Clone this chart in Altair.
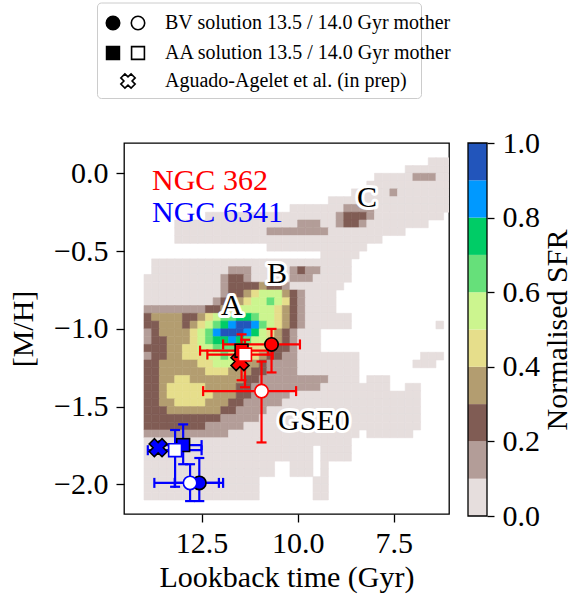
import altair as alt
import pandas as pd

# ---------------- colours of the 10 SFR levels (terrain_r, 0.0-1.0 in 0.1 steps)
LEVEL_COLORS = ["#e6dedd", "#b39d98", "#805c54", "#b39d70", "#e6de8b",
                "#ccf58f", "#66e07a", "#00cc66", "#0099ff", "#2255bb"]
CBAR_LO = [0.0, 0.1, 0.2, 0.3, 0.4, 0.5, 0.6, 0.7, 0.8, 0.9]

# ---------------- SFR map grid: columns of 0.2 Gyr from 14.0 Gyr, rows of 0.05 dex from +0.15
GRID_T_START, GRID_T_STEP = 14.0, 0.2
GRID_MH_START, GRID_MH_STEP = 0.15, 0.05
GRID_NCOL = 40
# each row: runs (first col, last col, level); later runs overwrite earlier ones
SFR_RUNS = [
    [],
    [(37, 39, 0)],
    [(34, 39, 0)],
    [(30, 39, 0), (35, 37, 1)],
    [(29, 39, 0)],
    [(27, 39, 0), (32, 32, 1)],
    [(24, 39, 0)],
    [(19, 39, 0), (26, 29, 1)],
    [(8, 38, 0), (25, 25, 1), (26, 28, 2), (29, 29, 1)],
    [(4, 36, 0), (20, 22, 1), (25, 25, 1), (26, 27, 2), (28, 28, 1)],
    [(4, 33, 0), (16, 23, 1)],
    [(4, 30, 0)],
    [(16, 28, 0)],
    [(23, 27, 0)],
    [(1, 26, 0)],
    [(1, 26, 0), (11, 13, 1), (19, 22, 1), (20, 20, 2)],
    [(0, 26, 0), (10, 10, 1), (11, 12, 2), (13, 13, 1), (19, 21, 1)],
    [(0, 25, 0), (10, 10, 1), (11, 14, 2), (15, 15, 3), (16, 17, 2), (18, 18, 1)],
    [(0, 24, 0), (10, 10, 1), (11, 12, 2), (13, 13, 3), (14, 14, 4), (15, 17, 5), (18, 18, 3),
     (19, 19, 2), (20, 20, 1)],
    [(0, 24, 0), (9, 9, 1), (10, 10, 2), (11, 12, 3), (13, 13, 4), (14, 15, 5), (16, 16, 6),
     (17, 17, 5), (18, 18, 4), (19, 19, 2), (20, 20, 1)],
    [(0, 24, 0), (0, 7, 1), (8, 9, 2), (10, 10, 3), (11, 11, 4), (12, 16, 5), (17, 17, 4),
     (18, 18, 3), (19, 19, 2), (20, 20, 1)],
    [(0, 26, 0), (0, 0, 2), (1, 4, 3), (5, 6, 2), (7, 7, 3), (8, 8, 4), (9, 9, 5), (10, 11, 6),
     (12, 13, 7), (14, 14, 6), (15, 16, 5), (17, 17, 4), (18, 18, 3), (19, 19, 2), (20, 20, 1)],
    [(0, 26, 0), (38, 38, 0), (0, 1, 2), (2, 4, 3), (5, 5, 2), (6, 6, 3), (7, 7, 4), (8, 8, 5),
     (9, 9, 6), (10, 10, 7), (11, 11, 8), (12, 13, 9), (14, 14, 8), (15, 15, 6), (16, 16, 5),
     (17, 17, 4), (18, 18, 3), (19, 19, 2), (20, 20, 1)],
    [(0, 22, 0), (0, 0, 1), (1, 1, 2), (2, 5, 3), (6, 6, 4), (7, 7, 5), (8, 8, 6), (9, 9, 8),
     (10, 12, 9), (13, 13, 8), (14, 14, 7), (15, 15, 5), (16, 16, 4), (17, 17, 3), (18, 18, 2),
     (19, 19, 1)],
    [(0, 22, 0), (0, 0, 1), (1, 2, 2), (3, 5, 3), (6, 6, 4), (7, 7, 5), (8, 8, 6), (9, 10, 7),
     (11, 11, 8), (12, 12, 7), (13, 13, 6), (14, 15, 5), (16, 16, 4), (17, 17, 3), (18, 18, 2),
     (19, 19, 1)],
    [(0, 22, 0), (0, 2, 2), (3, 4, 3), (5, 6, 4), (7, 8, 5), (9, 11, 6), (12, 13, 5), (14, 15, 4),
     (16, 16, 3), (17, 18, 2), (19, 19, 1)],
    [(0, 27, 0), (36, 38, 0), (0, 0, 1), (1, 2, 2), (3, 4, 3), (5, 7, 4), (8, 9, 5), (10, 10, 6),
     (11, 12, 5), (13, 14, 4), (15, 15, 3), (16, 17, 2), (18, 19, 1)],
    [(0, 27, 0), (35, 37, 0), (0, 1, 2), (2, 6, 3), (7, 8, 4), (9, 11, 5), (12, 12, 4), (13, 14, 3),
     (15, 15, 2), (16, 19, 1)],
    [(0, 27, 0), (0, 1, 2), (2, 7, 3), (8, 10, 4), (11, 13, 3), (14, 15, 2), (16, 19, 1)],
    [(0, 27, 0), (29, 31, 0), (0, 1, 2), (2, 3, 3), (4, 5, 4), (6, 12, 3), (13, 14, 2), (15, 23, 1)],
    [(0, 31, 0), (34, 35, 0), (0, 1, 2), (2, 2, 3), (3, 7, 4), (8, 11, 3), (12, 13, 2), (14, 22, 1)],
    [(0, 35, 0), (0, 1, 2), (2, 2, 3), (3, 8, 4), (9, 11, 3), (12, 13, 2), (14, 18, 1)],
    [(0, 35, 0), (0, 1, 2), (2, 3, 3), (4, 7, 4), (8, 10, 3), (11, 12, 2), (13, 17, 1)],
    [(0, 35, 0), (0, 2, 2), (3, 9, 3), (10, 11, 2), (12, 15, 1)],
    [(0, 35, 0), (0, 9, 2), (10, 14, 1)],
    [(0, 35, 0), (0, 7, 2), (8, 12, 1)],
    [(0, 27, 0), (29, 34, 0), (0, 10, 1)],
    [(0, 26, 0)],
    [(0, 21, 0), (23, 26, 0)],
    [(0, 21, 0), (23, 26, 0)],
    [(0, 16, 0), (19, 21, 0), (23, 23, 0)],
    [(0, 16, 0), (19, 21, 0), (23, 23, 0)],
    [(0, 14, 0), (22, 23, 0)],
    [(0, 14, 0), (22, 23, 0)],
    [(0, 14, 0), (22, 23, 0)],
]

# ---------------- globular-cluster solutions
PT_CLUSTER = ["NGC 362"] * 5 + ["NGC 6341"] * 5
PT_KIND = ["BV13.5", "BV14.0", "AA13.5", "AA14.0", "AGUADO"] * 2
PT_T = [10.68, 10.94, 11.46, 11.37, 11.50, 12.56, 12.80, 12.98, 13.19, 13.63]
PT_MH = [-1.10, -1.40, -1.14, -1.165, -1.21, -1.99, -1.99, -1.747, -1.78, -1.764]
PT_T_OLD = [11.94, 12.46, 12.54, 12.35, None, 13.20, 13.73, 13.60, 13.90, None]
PT_T_YOUNG = [9.94, 10.04, 10.77, 10.65, None, 11.94, 12.05, 12.50, 12.50, None]
PT_MH_HI = [-1.00, -1.21, -1.035, -1.07, None, -1.83, -1.87, -1.614, -1.65, None]
PT_MH_LO = [-1.28, -1.73, -1.33, -1.375, None, -2.107, -2.107, -1.87, -2.015, None]
CLUSTER_COLORS = {"NGC 362": "#ff0000", "NGC 6341": "#0000ff"}

# ---------------- annotations
LABEL_TEXT = ["A", "B", "C", "GSE0"]
LABEL_T = [11.71, 10.54, 8.195, 9.575]
LABEL_MH = [-0.911, -0.705, -0.217, -1.651]
NGC_TEXT = ["NGC 362", "NGC 6341"]
NGC_T = [13.79, 13.79]
NGC_MH = [-0.107, -0.313]

LEGEND_TEXT = ["BV solution 13.5 / 14.0 Gyr mother",
               "AA solution 13.5 / 14.0 Gyr mother",
               "Aguado-Agelet et al. (in prep)"]

FONT = "Liberation Serif"

# ---------------- tables
cells = []
for i, runs in enumerate(SFR_RUNS):
    row = [None] * GRID_NCOL
    for c0, c1, lev in runs:
        for c in range(c0, c1 + 1):
            row[c] = lev
    for j, lev in enumerate(row):
        if lev is None:
            continue
        cells.append({
            "t0": GRID_T_START - GRID_T_STEP * j,
            "t1": GRID_T_START - GRID_T_STEP * (j + 1),
            "m0": GRID_MH_START - GRID_MH_STEP * i,
            "m1": GRID_MH_START - GRID_MH_STEP * (i + 1),
            "level": lev,
            "hex": LEVEL_COLORS[lev],
        })
heat_df = pd.DataFrame(cells)

pts = pd.DataFrame({
    "cluster": PT_CLUSTER, "kind": PT_KIND, "t": PT_T, "mh": PT_MH,
    "t_old": PT_T_OLD, "t_young": PT_T_YOUNG, "mh_hi": PT_MH_HI, "mh_lo": PT_MH_LO,
})
pts["col"] = pts["cluster"].map(CLUSTER_COLORS)
err = pts[pts["kind"] != "AGUADO"].copy()
hcaps = pd.concat([
    err[["t_old", "mh", "col"]].rename(columns={"t_old": "tc"}),
    err[["t_young", "mh", "col"]].rename(columns={"t_young": "tc"}),
])
vcaps = pd.concat([
    err[["t", "mh_hi", "col"]].rename(columns={"mh_hi": "mc"}),
    err[["t", "mh_lo", "col"]].rename(columns={"mh_lo": "mc"}),
])

# ---------------- scales / axes
AX_STYLE = dict(labelFont=FONT, labelFontSize=30, labelColor="black",
                titleFont=FONT, titleFontSize=30, titleFontWeight="normal", titleColor="black",
                tickColor="black", tickWidth=1.3, domain=False, grid=False)
x_scale = alt.Scale(domain=[14.52, 6.06], nice=False, zero=False)
y_scale = alt.Scale(domain=[-2.19, 0.195], nice=False, zero=False)
x_axis = alt.Axis(values=[12.5, 10.0, 7.5], format=".1f", title="Lookback time (Gyr)",
                  tickSize=8, labelPadding=6, titlePadding=4, **AX_STYLE)
y_axis = alt.Axis(values=[0.0, -0.5, -1.0, -1.5, -2.0], format=".1f", title="[M/H]",
                  tickSize=8, labelPadding=8, titlePadding=15, **AX_STYLE)


def X(f):
    return alt.X(f, scale=x_scale, axis=x_axis)


def Y(f):
    return alt.Y(f, scale=y_scale, axis=y_axis)


heat = alt.Chart(heat_df).mark_rect(clip=True, strokeWidth=0.6).encode(
    x=X("t0:Q"), x2="t1:Q", y=Y("m0:Q"), y2="m1:Q",
    color=alt.Color("hex:N", scale=None), stroke=alt.Stroke("hex:N", scale=None),
)

hbar = alt.Chart(err).mark_rule(strokeWidth=2.2).encode(
    x=X("t_old:Q"), x2="t_young:Q", y=Y("mh:Q"), color=alt.Color("col:N", scale=None))
vbar = alt.Chart(err).mark_rule(strokeWidth=2.2).encode(
    x=X("t:Q"), y=Y("mh_hi:Q"), y2="mh_lo:Q", color=alt.Color("col:N", scale=None))
hcap = alt.Chart(hcaps).mark_tick(orient="vertical", size=10, thickness=2.2, opacity=1).encode(
    x=X("tc:Q"), y=Y("mh:Q"), color=alt.Color("col:N", scale=None))
vcap = alt.Chart(vcaps).mark_tick(orient="horizontal", size=10, thickness=2.2, opacity=1).encode(
    x=X("t:Q"), y=Y("mc:Q"), color=alt.Color("col:N", scale=None))


def marker(kind, shape, size, filled_face, angle=0):
    d = pts[pts["kind"] == kind]
    if filled_face:
        fill = alt.Fill("col:N", scale=None)
        stroke = alt.value("black")
    else:
        fill = alt.value("white")
        stroke = alt.Stroke("col:N", scale=None)
    return alt.Chart(d).mark_point(shape=shape, size=size, filled=True, opacity=1,
                                   strokeWidth=1.6, angle=angle).encode(
        x=X("t:Q"), y=Y("mh:Q"), fill=fill, stroke=stroke)


crosses = marker("AGUADO", "cross", 330, True, angle=45)
circ_f = marker("BV13.5", "circle", 180, True)
circ_o = marker("BV14.0", "circle", 180, False)
sq_f = marker("AA13.5", "square", 165, True)
sq_o = marker("AA14.0", "square", 165, False)

lab_df = pd.DataFrame({"text": LABEL_TEXT, "t": LABEL_T, "mh": LABEL_MH})
lab_halo = alt.Chart(lab_df).mark_text(font=FONT, fontSize=30, align="center", baseline="alphabetic",
                                       stroke="white", strokeWidth=6, strokeJoin="round",
                                       fill="white").encode(x=X("t:Q"), y=Y("mh:Q"), text="text:N")
lab_txt = alt.Chart(lab_df).mark_text(font=FONT, fontSize=30, align="center", baseline="alphabetic",
                                      color="black").encode(x=X("t:Q"), y=Y("mh:Q"), text="text:N")
ngc_df = pd.DataFrame({"text": NGC_TEXT, "t": NGC_T, "mh": NGC_MH})
ngc_df["col"] = ngc_df["text"].map(CLUSTER_COLORS)
ngc_txt = alt.Chart(ngc_df).mark_text(font=FONT, fontSize=30, align="left", baseline="alphabetic").encode(
    x=X("t:Q"), y=Y("mh:Q"), text="text:N", color=alt.Color("col:N", scale=None))

main = alt.layer(heat, hbar, vbar, hcap, vcap, crosses, circ_f, circ_o, sq_f, sq_o,
                 lab_halo, lab_txt, ngc_txt)

# ---------------- colour bar
cb_df = pd.DataFrame({"lo": CBAR_LO, "hex": LEVEL_COLORS})
cb_df["hi"] = cb_df["lo"] + 0.1
cb_scale = alt.Scale(domain=[0, 1], range=[373, 0], nice=False, zero=False)
cb_axis = alt.Axis(orient="right", offset=38, values=[0.0, 0.2, 0.4, 0.6, 0.8, 1.0], format=".1f",
                   tickSize=7, labelPadding=8, title="Normalised SFR",
                   titleAngle=270, titleBaseline="top", titlePadding=3, **AX_STYLE)
cb_rect = alt.Chart(cb_df).mark_rect().encode(
    x=alt.value(344), x2=alt.value(363),
    y=alt.Y("lo:Q", scale=cb_scale, axis=cb_axis), y2="hi:Q",
    color=alt.Color("hex:N", scale=None))
cb_frame = alt.Chart(pd.DataFrame({"lo": [0.0], "hi": [1.0]})).mark_rect(
    fillOpacity=0, stroke="black", strokeWidth=1.3).encode(
    x=alt.value(344), x2=alt.value(363),
    y=alt.Y("lo:Q", scale=cb_scale, axis=cb_axis), y2="hi:Q")
cbar = alt.layer(cb_rect, cb_frame)

# ---------------- legend (pixel offsets from the plot's top-left corner)
leg_frame = alt.Chart(pd.DataFrame({"x0": [-26.5], "x1": [297.5], "y0": [-140.0], "y1": [-44.5]})).mark_rect(
    fill="white", stroke="#cccccc", strokeWidth=1, cornerRadius=4).encode(
    x=alt.X("x0:Q", scale=None), x2="x1:Q", y=alt.Y("y0:Q", scale=None), y2="y1:Q")
leg_sym_df = pd.DataFrame({
    "x": [-11, 14, -11, 14, 4],
    "y": [-120, -120, -90, -90, -62],
    "shape": ["circle", "circle", "square", "square", "cross"],
    "fill": ["black", "white", "black", "white", "white"],
    "ang": [0, 0, 0, 0, 45],
    "size": [180, 180, 165, 165, 210],
})
leg_sym = alt.Chart(leg_sym_df).mark_point(filled=True, opacity=1, stroke="black", strokeWidth=1.6).encode(
    x=alt.X("x:Q", scale=None), y=alt.Y("y:Q", scale=None),
    shape=alt.Shape("shape:N", scale=None), fill=alt.Fill("fill:N", scale=None),
    angle=alt.Angle("ang:Q", scale=None), size=alt.Size("size:Q", scale=None))
leg_txt_df = pd.DataFrame({"text": LEGEND_TEXT, "x": [41, 41, 41], "y": [-114, -84, -56]})
leg_txt = alt.Chart(leg_txt_df).mark_text(font=FONT, fontSize=20, align="left", baseline="alphabetic",
                                          color="black").encode(
    x=alt.X("x:Q", scale=None), y=alt.Y("y:Q", scale=None), text="text:N")
legend = alt.layer(leg_frame, leg_sym, leg_txt)

chart = alt.layer(main, cbar, legend).resolve_scale(x="independent", y="independent").properties(
    width=325, height=371,
    autosize=alt.AutoSizeParams(type="none"),
    padding={"left": 124, "top": 143, "right": 127, "bottom": 85},
    background="white",
).configure_view(stroke="black", strokeWidth=1.3)

chart.save("out.html", embed_options={"renderer": "svg", "actions": False})
